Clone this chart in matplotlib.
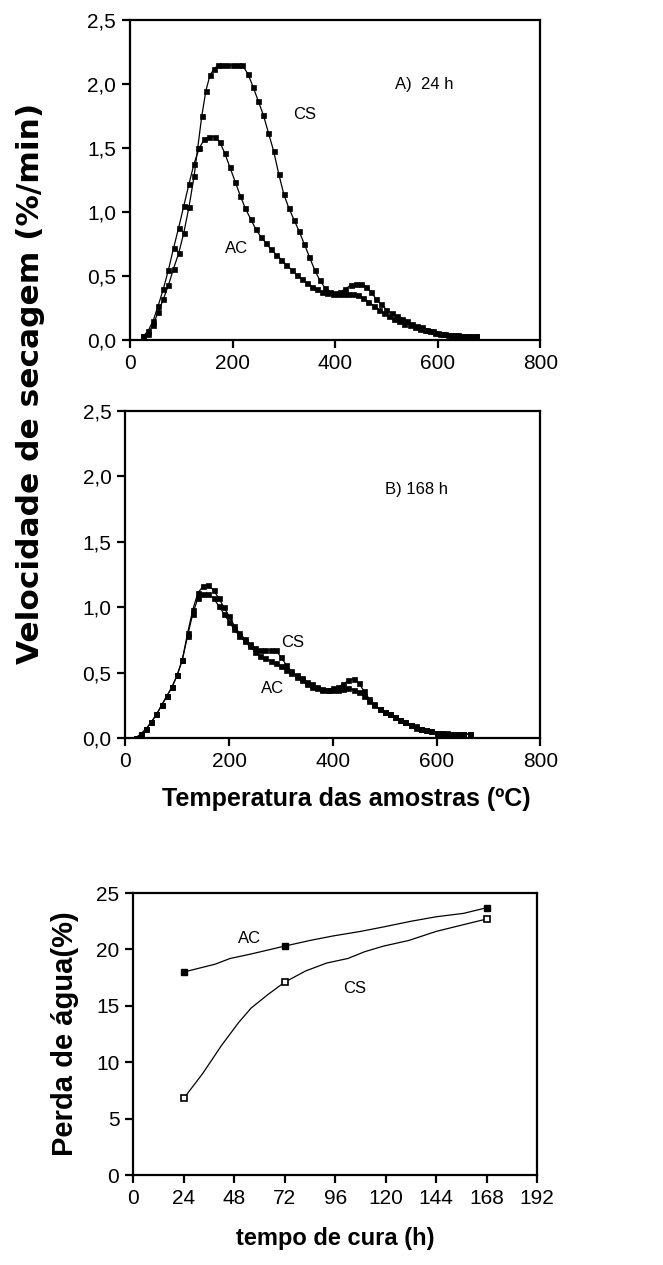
import matplotlib
matplotlib.use('Agg')
import matplotlib.pyplot as plt

# --- data ---
# A) 24 h
cs24_t = [25, 35, 45, 55, 65, 75, 85, 95, 105, 115, 125, 132, 140, 148, 156, 164, 172, 180, 190, 200,
          210, 219, 230, 240, 250, 260, 270, 280, 290, 300, 310, 320, 330, 340, 350, 360, 370, 380, 390, 400,
          410, 420, 430, 440, 450, 460, 470, 480, 490, 500, 510, 520, 530, 540, 550, 560, 570, 580, 590, 600,
          610, 620, 630, 640, 650, 660, 675]
cs24_v = [0.03, 0.05, 0.12, 0.22, 0.32, 0.43, 0.56, 0.68, 0.84, 1.04, 1.28, 1.50, 1.75, 1.95, 2.07, 2.12, 2.15, 2.15, 2.15, 2.15,
          2.15, 2.15, 2.08, 1.98, 1.87, 1.76, 1.62, 1.48, 1.30, 1.14, 1.03, 0.94, 0.85, 0.75, 0.65, 0.55, 0.47, 0.41, 0.38, 0.37,
          0.38, 0.40, 0.43, 0.44, 0.44, 0.42, 0.38, 0.32, 0.28, 0.24, 0.21, 0.19, 0.17, 0.15, 0.13, 0.11, 0.10, 0.08, 0.07, 0.06,
          0.05, 0.04, 0.04, 0.04, 0.03, 0.03, 0.03]
ac24_t = [25, 35, 45, 55, 65, 75, 85, 95, 105, 115, 125, 135, 145, 155, 165, 175, 185, 195, 205, 215,
          225, 235, 245, 255, 265, 275, 285, 295, 305, 315, 325, 335, 345, 355, 365, 375, 385, 395, 405, 415,
          425, 435, 445, 455, 465, 475, 485, 495, 505, 515, 525, 535, 545, 555, 565, 575, 585, 595, 605, 615,
          625, 635, 645, 655, 665, 675]
ac24_v = [0.03, 0.07, 0.15, 0.27, 0.40, 0.55, 0.72, 0.88, 1.05, 1.22, 1.38, 1.50, 1.57, 1.59, 1.59, 1.55, 1.46, 1.35, 1.24, 1.13,
          1.03, 0.95, 0.87, 0.81, 0.76, 0.71, 0.67, 0.63, 0.59, 0.55, 0.51, 0.48, 0.45, 0.42, 0.40, 0.38, 0.37, 0.36, 0.36, 0.36,
          0.36, 0.36, 0.35, 0.33, 0.30, 0.27, 0.24, 0.21, 0.19, 0.17, 0.15, 0.13, 0.12, 0.10, 0.09, 0.08, 0.07, 0.06, 0.05, 0.05,
          0.04, 0.04, 0.03, 0.03, 0.03, 0.03]

# B) 168 h
cs168_t = [20, 30, 40, 50, 60, 70, 80, 90, 100, 110, 120, 130, 140, 150, 160, 170, 180, 190, 200, 210,
           220, 230, 240, 250, 260, 270, 280, 290, 300, 310, 320, 330, 340, 350, 360, 370, 380, 390, 400, 410,
           420, 430, 440, 450, 460, 470, 480, 490, 500, 510, 520, 530, 540, 550, 560, 570, 580, 590, 600, 610,
           620, 630, 640, 650, 665]
cs168_v = [0.00, 0.03, 0.07, 0.12, 0.18, 0.25, 0.32, 0.39, 0.48, 0.60, 0.80, 0.98, 1.11, 1.16, 1.17, 1.13, 1.07, 1.00, 0.93, 0.86,
           0.80, 0.76, 0.72, 0.69, 0.67, 0.67, 0.67, 0.67, 0.62, 0.56, 0.51, 0.47, 0.44, 0.41, 0.39, 0.38, 0.37, 0.37, 0.38, 0.39,
           0.41, 0.44, 0.45, 0.42, 0.36, 0.30, 0.26, 0.22, 0.20, 0.18, 0.16, 0.14, 0.12, 0.10, 0.08, 0.07, 0.06, 0.05, 0.04, 0.04,
           0.03, 0.03, 0.03, 0.03, 0.03]
ac168_t = [20, 30, 40, 50, 60, 70, 80, 90, 100, 110, 120, 130, 140, 150, 160, 170, 180, 190, 200, 210,
           220, 230, 240, 250, 260, 270, 280, 290, 300, 310, 320, 330, 340, 350, 360, 370, 380, 390, 400, 410,
           420, 430, 440, 450, 460, 470, 480, 490, 500, 510, 520, 530, 540, 550, 560, 570, 580, 590, 600, 610,
           620, 630, 640, 650, 665]
ac168_v = [0.00, 0.03, 0.07, 0.12, 0.18, 0.25, 0.32, 0.39, 0.48, 0.60, 0.78, 0.95, 1.07, 1.10, 1.10, 1.07, 1.01, 0.95, 0.89, 0.83,
           0.78, 0.74, 0.70, 0.66, 0.63, 0.61, 0.59, 0.57, 0.55, 0.52, 0.50, 0.48, 0.46, 0.43, 0.41, 0.39, 0.375, 0.365, 0.365, 0.37,
           0.375, 0.38, 0.37, 0.35, 0.32, 0.28, 0.25, 0.22, 0.20, 0.18, 0.16, 0.14, 0.12, 0.10, 0.09, 0.07, 0.06, 0.05, 0.04, 0.04,
           0.04, 0.03, 0.03, 0.03, 0.03]

# water loss vs curing time (measured points)
cura_h = [24, 72, 168]
perda_ac = [18.0, 20.3, 23.7]
perda_cs = [6.8, 17.1, 22.7]
# traced connecting curves
ac_line_h = [24, 39, 46, 56, 72, 84, 95, 108, 119, 132, 144, 157, 168]
ac_line_v = [18.0, 18.7, 19.2, 19.6, 20.3, 20.8, 21.2, 21.6, 22.0, 22.5, 22.9, 23.2, 23.7]
cs_line_h = [24, 33, 42, 50, 56, 64, 72, 82, 92, 102, 110, 119, 131, 144, 157, 168]
cs_line_v = [6.8, 9.0, 11.5, 13.5, 14.8, 16.0, 17.1, 18.1, 18.8, 19.2, 19.8, 20.3, 20.8, 21.6, 22.2, 22.7]

temp_ticks = [0, 200, 400, 600, 800]
vel_ticks = [0.0, 0.5, 1.0, 1.5, 2.0, 2.5]
vel_labels = ['0,0', '0,5', '1,0', '1,5', '2,0', '2,5']
cura_ticks = [0, 24, 48, 72, 96, 120, 144, 168, 192]
perda_ticks = [0, 5, 10, 15, 20, 25]

plt.rcParams['font.family'] = ['Liberation Sans', 'DejaVu Sans']

fig = plt.figure(figsize=(6.63, 12.65), dpi=100)


def style(ax):
    for s in ax.spines.values():
        s.set_linewidth(1.6)
    ax.tick_params(direction='out', length=6, width=1.6, labelsize=15, pad=4,
                   top=False, right=False)


def curve(ax, t, v):
    ax.plot(t, v, color='black', lw=0.9, marker='s', ms=3.6, mfc='black', mec='black', mew=0.5)


axA = fig.add_axes([0.196, 0.731, 0.619, 0.253])
curve(axA, cs24_t, cs24_v)
curve(axA, ac24_t, ac24_v)
axA.text(517, 2.0, 'A)  24 h', fontsize=12, va='center')
axA.text(318, 1.76, 'CS', fontsize=12, va='center')
axA.text(185, 0.72, 'AC', fontsize=12, va='center')

axB = fig.add_axes([0.189, 0.4166, 0.626, 0.2585])
curve(axB, cs168_t, cs168_v)
curve(axB, ac168_t, ac168_v)
axB.text(500, 1.9, 'B) 168 h', fontsize=12, va='center')
axB.text(300, 0.73, 'CS', fontsize=12, va='center')
axB.text(262, 0.38, 'AC', fontsize=12, va='center')

for ax in (axA, axB):
    ax.set_xlim(0, 800)
    ax.set_ylim(0, 2.5)
    ax.set_xticks(temp_ticks)
    ax.set_yticks(vel_ticks)
    ax.set_yticklabels(vel_labels)
    style(ax)

fig.text(0.046, 0.697, 'Velocidade de secagem (%/min)', rotation=90, ha='center', va='center',
         fontsize=22.5, fontweight='bold', family='DejaVu Sans')
fig.text(0.523, 0.368, 'Temperatura das amostras (ºC)', ha='center', va='center',
         fontsize=18, fontweight='bold')

axC = fig.add_axes([0.201, 0.0711, 0.609, 0.2229])
axC.plot(ac_line_h, ac_line_v, color='black', lw=0.9)
axC.plot(cs_line_h, cs_line_v, color='black', lw=0.9)
axC.plot(cura_h, perda_ac, ls='none', marker='s', ms=4.5, mfc='black', mec='black')
axC.plot(cura_h, perda_cs, ls='none', marker='s', ms=4.5, mfc='white', mec='black', mew=1.2)
axC.text(50, 21.0, 'AC', fontsize=12, va='center')
axC.text(100, 16.5, 'CS', fontsize=12, va='center')
axC.set_xlim(0, 192)
axC.set_ylim(0, 25)
axC.set_xticks(cura_ticks)
axC.set_yticks(perda_ticks)
style(axC)
axC.set_xlabel('tempo de cura (h)', fontsize=17, fontweight='bold', labelpad=14)
axC.set_ylabel('Perda de água(%)', fontsize=21, fontweight='bold', labelpad=12)

fig.savefig('out.png', dpi=100)
